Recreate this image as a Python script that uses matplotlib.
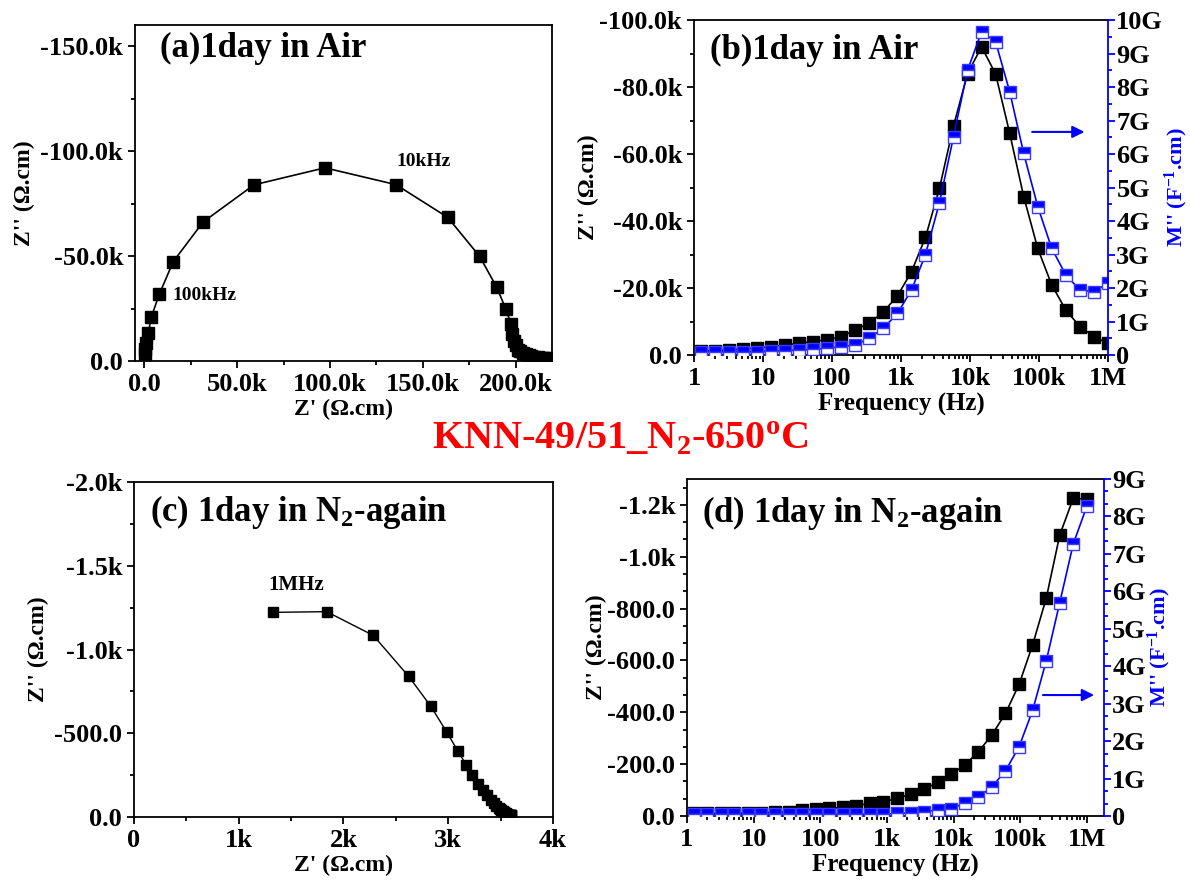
"""Impedance / modulus plots for KNN-49/51 annealed in N2 at 650 C.
"""

import matplotlib
matplotlib.use('Agg')
import matplotlib.pyplot as plt
from matplotlib.ticker import (MultipleLocator, AutoMinorLocator, FuncFormatter,
                               FixedLocator, LogLocator, NullFormatter)

plt.rcParams['font.family'] = ['Liberation Serif', 'DejaVu Serif']
plt.rcParams['font.weight'] = 'bold'
plt.rcParams['axes.labelweight'] = 'bold'
plt.rcParams['mathtext.fontset'] = 'custom'
plt.rcParams['mathtext.rm'] = 'Liberation Serif:bold'
plt.rcParams['mathtext.it'] = 'Liberation Serif:bold'
plt.rcParams['mathtext.bf'] = 'Liberation Serif:bold'

freq = [1.26, 2.01, 3.21, 5.13, 8.19, 13.1, 20.9, 33.4, 53.4, 85.3,
        136, 217, 347, 555, 886, 1420, 2260, 3610, 5770, 9220,
        14700, 23500, 37600, 60000, 95900, 153000, 245000, 391000, 624000, 996000]

# 1 day in air: Z'' and M'' vs frequency, Z' for the Nyquist plot
z_imag_air = [-1200, -1300, -1500, -1800, -2100, -2500, -3000, -3500, -4000, -4600,
              -5400, -7500, -9500, -12900, -17600, -24900, -35100, -49800, -68400, -84000,
              -92000, -83900, -66200, -47300, -31800, -20900, -13400, -8500, -5500, -3500]
z_real_air = [216500, 215500, 214000, 212000, 210000, 208500, 207000, 205500, 204000, 202500,
              201000, 200000, 199000, 198000, 197500, 194600, 189800, 180600, 163400, 135500,
              97300, 59100, 31700, 15600, 8100, 3800, 2200, 1200, 600, 300]
m_imag_air = [0.10, 0.10, 0.10, 0.10, 0.10, 0.12, 0.13, 0.15, 0.17, 0.20,
              0.25, 0.30, 0.50, 0.80, 1.24, 1.94, 3.00, 4.55, 6.52, 8.50,
              9.65, 9.35, 7.86, 6.02, 4.43, 3.18, 2.39, 1.94, 1.89, 2.14]  # G

# 1 day in N2 again
z_imag_n2 = [-10, -10, -10, -10, -13, -13, -14, -17, -23, -26,
             -30, -33, -40, -49, -55, -68, -84, -103, -130, -161,
             -197, -248, -313, -396, -508, -660, -840, -1084, -1226, -1222]
z_real_n2 = [3600, 3598, 3595, 3590, 3585, 3580, 3572, 3562, 3550, 3540,
             3530, 3520, 3505, 3492, 3480, 3460, 3435, 3405, 3367, 3329,
             3287, 3230, 3170, 3090, 2985, 2835, 2622, 2285, 1840, 1324]
m_imag_n2 = [0.05, 0.05, 0.05, 0.05, 0.05, 0.05, 0.05, 0.05, 0.05, 0.05,
             0.05, 0.05, 0.05, 0.05, 0.05, 0.07, 0.09, 0.12, 0.16, 0.20,
             0.34, 0.50, 0.78, 1.21, 1.85, 2.82, 4.14, 5.70, 7.27, 8.27]  # G

decade_labels = {1: '1', 10: '10', 100: '100', 1e3: '1k', 1e4: '10k', 1e5: '100k', 1e6: '1M'}

TICK = 19
LABEL = 18
PANEL = 25


def kfmt(decimal=True):
    def f(v, pos):
        if abs(v) < 1e-9:
            return '0.0' if decimal else '0'
        if abs(v) >= 1000:
            return f'{v / 1000:.1f}k' if decimal else f'{v / 1000:.0f}k'
        return f'{v:.1f}'
    return FuncFormatter(f)


def style(ax):
    for s in ax.spines.values():
        s.set_linewidth(1.3)
    ax.tick_params(which='both', direction='out', top=False, right=False,
                   labelsize=TICK, width=1.3)
    ax.tick_params(which='major', length=5)
    ax.tick_params(which='minor', length=3)


def freq_axis(ax, right):
    ax.set_xscale('log')
    ax.set_xlim(1, right)
    ax.xaxis.set_major_locator(FixedLocator(list(decade_labels)))
    ax.xaxis.set_major_formatter(FuncFormatter(lambda v, p: decade_labels.get(v, '')))
    ax.xaxis.set_minor_locator(LogLocator(base=10, subs=range(2, 10), numticks=20))
    ax.xaxis.set_minor_formatter(NullFormatter())
    ax.set_xlabel('Frequency (Hz)', fontsize=LABEL, labelpad=2)


def modulus_axis(ax, mvals, top, minor):
    ax2 = ax.twinx()
    ax2.plot(freq, mvals, '-s', color='blue', lw=1.2, ms=8,
             fillstyle='top', markerfacecolor='blue', markerfacecoloralt='white',
             markeredgecolor='#3a3aff', markeredgewidth=1)
    ax2.set_ylim(0, top)
    ax2.yaxis.set_major_locator(MultipleLocator(1))
    ax2.yaxis.set_minor_locator(AutoMinorLocator(minor))
    ax2.yaxis.set_major_formatter(FuncFormatter(lambda v, p: '0' if v == 0 else f'{v:.0f}G'))
    for side in ['left', 'top', 'bottom']:
        ax2.spines[side].set_visible(False)
    ax2.spines['right'].set_color('blue')
    ax2.spines['right'].set_linewidth(1.3)
    ax2.tick_params(which='both', direction='out', colors='blue', labelcolor='black',
                    labelsize=TICK, width=1.3, pad=1)
    ax2.tick_params(which='major', length=5)
    ax2.tick_params(which='minor', length=3)
    ax.spines['right'].set_visible(False)
    ax2.set_ylabel("M'' (F$^{-1}$.cm)", fontsize=LABEL - 2, color='blue', labelpad=0)
    return ax2


fig = plt.figure(figsize=(11.9, 8.94), dpi=100)

# (a) Nyquist, air
ax = fig.add_axes([0.1134, 0.5962, 0.3504, 0.3758])
style(ax)
ax.plot(z_real_air, z_imag_air, '-s', color='black', lw=1.2, ms=8.5)
ax.set_xlim(-5000, 219500)
ax.set_ylim(0, -160000)
ax.xaxis.set_major_locator(MultipleLocator(50000))
ax.xaxis.set_minor_locator(MultipleLocator(25000))
ax.yaxis.set_major_locator(MultipleLocator(50000))
ax.yaxis.set_minor_locator(MultipleLocator(25000))
ax.xaxis.set_major_formatter(kfmt())
ax.yaxis.set_major_formatter(kfmt())
ax.set_xlabel("Z' (Ω.cm)", fontsize=LABEL - 1, labelpad=2)
ax.set_ylabel("Z'' (Ω.cm)", fontsize=LABEL - 1)
ax.text(136000, -94800, '10kHz', fontsize=14, va='center')
ax.text(15000, -31000, '100kHz', fontsize=14, va='center')
ax.text(0.06, 0.93, '(a)1day in Air', transform=ax.transAxes, fontsize=PANEL, va='center')

# (b) Z'' and M'' vs frequency, air
ax = fig.add_axes([0.5832, 0.6029, 0.3479, 0.3747])
style(ax)
ax.plot(freq, z_imag_air, '-s', color='black', lw=1.2, ms=8.5)
freq_axis(ax, 1e6)
ax.set_ylim(0, -100000)
ax.yaxis.set_major_locator(MultipleLocator(20000))
ax.yaxis.set_minor_locator(MultipleLocator(10000))
ax.yaxis.set_major_formatter(kfmt())
ax.set_ylabel("Z'' (Ω.cm)", fontsize=LABEL - 1, labelpad=0)
ax2 = modulus_axis(ax, m_imag_air, 10, 2)
ax2.annotate('', xy=(0.95, 0.666), xytext=(0.81, 0.666), xycoords='axes fraction',
             arrowprops=dict(arrowstyle='-|>', color='blue', lw=1.5, mutation_scale=18))
ax.text(0.039, 0.91, '(b)1day in Air', transform=ax.transAxes, fontsize=PANEL, va='center')

# (c) Nyquist, N2 again
ax = fig.add_axes([0.1126, 0.0861, 0.3521, 0.3747])
style(ax)
ax.plot(z_real_n2, z_imag_n2, '-s', color='black', lw=1.0, ms=7)
ax.set_xlim(0, 4000)
ax.set_ylim(0, -2000)
ax.xaxis.set_major_locator(MultipleLocator(1000))
ax.xaxis.set_minor_locator(MultipleLocator(500))
ax.yaxis.set_major_locator(MultipleLocator(500))
ax.yaxis.set_minor_locator(MultipleLocator(250))
ax.xaxis.set_major_formatter(kfmt(decimal=False))
ax.yaxis.set_major_formatter(kfmt())
ax.set_xlabel("Z' (Ω.cm)", fontsize=LABEL - 1, labelpad=2)
ax.set_ylabel("Z'' (Ω.cm)", fontsize=LABEL - 1)
ax.text(1280, -1387, '1MHz', fontsize=15, va='center')
ax.text(0.038, 0.91, '(c) 1day in N$_2$-again', transform=ax.transAxes,
        fontsize=PANEL, va='center')

# (d) Z'' and M'' vs frequency, N2 again
ax = fig.add_axes([0.5773, 0.0872, 0.3504, 0.3770])
style(ax)
ax.plot(freq, z_imag_n2, '-s', color='black', lw=1.2, ms=8)
freq_axis(ax, 1.8e6)
ax.set_ylim(0, -1300)
ax.yaxis.set_major_locator(MultipleLocator(200))
ax.yaxis.set_minor_locator(AutoMinorLocator(3))
ax.yaxis.set_major_formatter(kfmt())
ax.set_ylabel("Z'' (Ω.cm)", fontsize=LABEL - 1, labelpad=0)
ax2 = modulus_axis(ax, m_imag_n2, 9, 3)
ax2.annotate('', xy=(0.983, 0.359), xytext=(0.847, 0.359), xycoords='axes fraction',
             arrowprops=dict(arrowstyle='-|>', color='blue', lw=1.5, mutation_scale=18))
ax.text(0.036, 0.90, '(d) 1day in N$_2$-again', transform=ax.transAxes,
        fontsize=PANEL, va='center')

fig.text(0.521, 0.508, 'KNN-49/51_N$_2$-650$^{o}$C', color='red', fontsize=29,
         ha='center', va='center')

fig.savefig('out.png', dpi=100)
